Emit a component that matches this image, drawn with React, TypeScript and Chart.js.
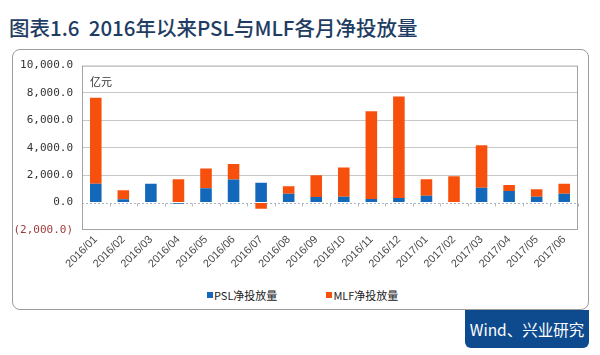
import React, { useEffect, useRef } from "react";
import { Chart, registerables } from "chart.js";

Chart.register(...registerables);

const titleText = "图表1.6  2016年以来PSL与MLF各月净投放量";
const sourceText = "Wind、兴业研究";
const unitLabel = "亿元";

const categories = [
  "2016/01", "2016/02", "2016/03", "2016/04", "2016/05", "2016/06",
  "2016/07", "2016/08", "2016/09", "2016/10", "2016/11", "2016/12",
  "2017/01", "2017/02", "2017/03", "2017/04", "2017/05", "2017/06",
];
const seriesNames = ["PSL净投放量", "MLF净投放量"];
const pslValues = [1370, 250, 1370, -80, 1040, 1690, 1440, 650, 410, 430, 270, 340, 500, 0, 1080, 840, 430, 650];
const mlfValues = [6280, 650, 0, 1700, 1440, 1130, -450, 550, 1590, 2130, 6400, 7410, 1210, 1930, 3110, 440, 540, 720];
const yMin = -2000;
const yMax = 10000;
const yStep = 2000;

const seriesColors = ["#1468b9", "#f7500c"];

function formatTick(v: number): string {
  const s = Math.abs(v).toLocaleString("en-US", { minimumFractionDigits: 1, maximumFractionDigits: 1 });
  return v < 0 ? `(${s})` : s;
}

const framePlugin = {
  id: "frame",
  beforeDatasetsDraw(chart: any) {
    const { ctx, chartArea } = chart;
    const y0 = Math.round(chart.scales.y.getPixelForValue(0)) + 0.5;
    const xs = chart.scales.x;
    ctx.save();
    ctx.strokeStyle = "#a9b4c2";
    ctx.lineWidth = 1;
    ctx.setLineDash([2, 2]);
    ctx.beginPath();
    ctx.moveTo(chartArea.left, y0);
    ctx.lineTo(chartArea.right, y0);
    ctx.stroke();
    ctx.setLineDash([]);
    ctx.strokeStyle = "#b8b8b8";
    for (let i = 0; i <= categories.length; i++) {
      const x = Math.round(xs.getPixelForValue(i - 0.5)) + 0.5;
      ctx.beginPath();
      ctx.moveTo(x, y0);
      ctx.lineTo(x, y0 + 3);
      ctx.stroke();
    }
    ctx.restore();
  },
  afterDraw(chart: any) {
    const { ctx, chartArea } = chart;
    const { left, top, right, bottom } = chartArea;
    ctx.save();
    ctx.strokeStyle = "#a3a3a3";
    ctx.lineWidth = 1;
    ctx.strokeRect(left + 0.5, top + 0.5, right - left - 1, bottom - top - 1);
    ctx.fillStyle = "#333333";
    ctx.font = "11px 'Noto Sans CJK SC'";
    ctx.textBaseline = "middle";
    ctx.textAlign = "left";
    ctx.fillText(unitLabel, left + 8, top + 16);
    ctx.restore();
  },
};

function BarChart() {
  const ref = useRef<HTMLCanvasElement | null>(null);
  useEffect(() => {
    if (!ref.current) return;
    const chart = new Chart(ref.current, {
      type: "bar",
      data: {
        labels: categories,
        datasets: [
          { label: seriesNames[0], data: pslValues, backgroundColor: seriesColors[0], borderWidth: 0 },
          { label: seriesNames[1], data: mlfValues, backgroundColor: seriesColors[1], borderWidth: 0 },
        ],
      },
      options: {
        responsive: false,
        animation: false,
        devicePixelRatio: 1,
        datasets: { bar: { categoryPercentage: 1, barPercentage: 0.42 } },
        layout: { padding: { top: 13, right: 12, left: 0, bottom: 0 } },
        plugins: {
          tooltip: { enabled: false },
          legend: { display: false },
        },
        scales: {
          x: {
            stacked: true,
            grid: { display: false, drawTicks: false },
            border: { display: false },
            afterFit: (axis: any) => { axis.height = 52; },
            ticks: {
              autoSkip: false,
              minRotation: 45,
              maxRotation: 45,
              padding: 3,
              color: "#4a4a4a",
              font: { family: "'Liberation Sans'", size: 11 },
            },
          },
          y: {
            stacked: true,
            min: yMin,
            max: yMax,
            afterFit: (axis: any) => { axis.width = 70; },
            grid: {
              drawTicks: false,
              color: (c: any) => {
                const v = c.tick ? c.tick.value : null;
                if (v === 0 || v === yMin || v === yMax) return "rgba(0,0,0,0)";
                return "#c8c8c8";
              },
            },
            border: { display: false },
            ticks: {
              stepSize: yStep,
              padding: 9,
              color: (c: any) => (c.tick && c.tick.value < 0 ? "#9a3b3b" : "#333333"),
              font: { family: "'DejaVu Sans Mono'", size: 11 },
              callback: (v: any) => formatTick(Number(v)),
            },
          },
        },
      },
      plugins: [framePlugin],
    });
    return () => chart.destroy();
  }, []);
  return (
    <canvas
      ref={ref}
      width={578}
      height={232}
      style={{ position: "absolute", left: 12, top: 50, width: 578, height: 232 }}
    />
  );
}

function Legend() {
  return (
    <div
      style={{
        position: "absolute",
        left: 207,
        top: 288,
        display: "flex",
        alignItems: "center",
        fontFamily: "'Noto Sans CJK SC'",
        fontSize: 11,
        color: "#222222",
        lineHeight: "14px",
        whiteSpace: "pre",
      }}
    >
      {seriesNames.map((name, i) => (
        <div key={name} style={{ display: "flex", alignItems: "center", marginRight: i === 0 ? 49 : 0 }}>
          <span style={{ display: "inline-block", width: 6, height: 6, background: seriesColors[i], marginRight: 1 }} />
          <span>{name}</span>
        </div>
      ))}
    </div>
  );
}

export default function App() {
  return (
    <div style={{ position: "fixed", left: 0, top: 0, width: 600, height: 355, background: "#ffffff", overflow: "hidden" }}>
      <div
        style={{
          position: "absolute",
          left: 9,
          top: 13,
          fontFamily: "'Noto Sans CJK SC'",
          fontWeight: 500,
          fontSize: 20.5,
          color: "#1f3d63",
          whiteSpace: "pre",
          lineHeight: "28px",
        }}
      >
        {titleText}
      </div>
      <div
        style={{
          position: "absolute",
          left: 12,
          top: 49,
          width: 575,
          height: 259,
          border: "1.5px solid #9c9c9c",
          borderRadius: 8,
        }}
      />
      <BarChart />
      <Legend />
      <div
        style={{
          position: "absolute",
          left: 465,
          top: 310,
          width: 124,
          height: 38,
          background: "#0d4a8e",
          borderRadius: "0 0 6px 6px",
          color: "#ffffff",
          fontFamily: "'Noto Sans CJK SC'",
          fontSize: 15.5,
          lineHeight: "38px",
          textAlign: "center",
          whiteSpace: "pre",
        }}
      >
        {sourceText}
      </div>
    </div>
  );
}
